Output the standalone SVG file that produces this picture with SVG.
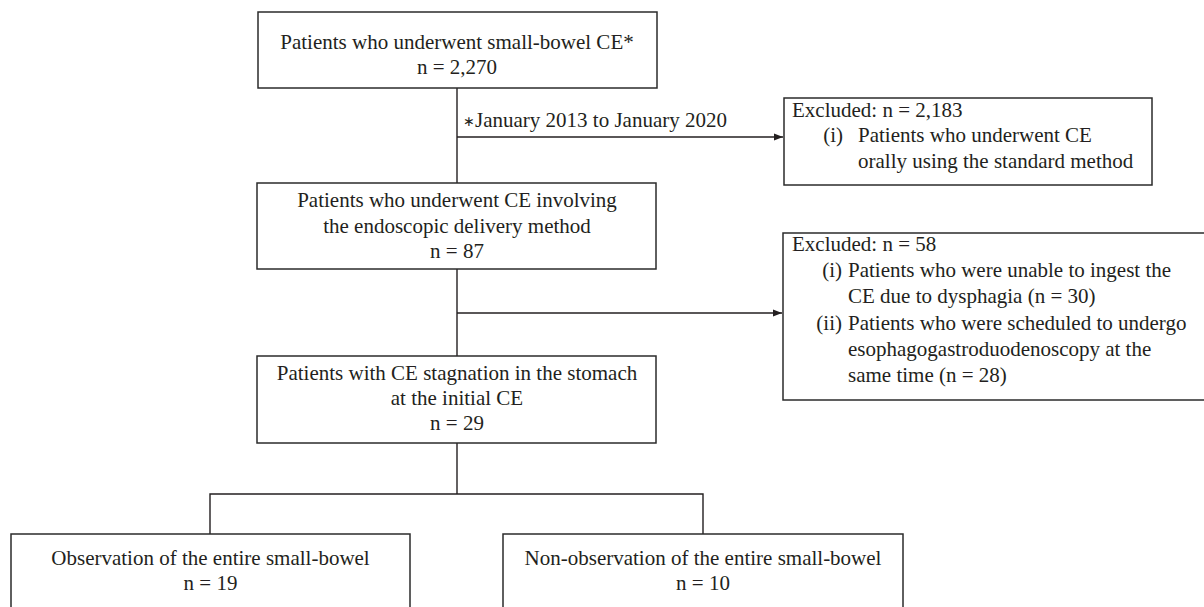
<svg xmlns="http://www.w3.org/2000/svg" width="1204" height="607" viewBox="0 0 1204 607">
<style>
  .box { fill: #ffffff; stroke: #2b2b2b; stroke-width: 1.5; }
  .ln { fill: none; stroke: #231f20; stroke-width: 1.4; }
  text { font-family: "Liberation Serif", "Times New Roman", serif; font-size: 21px; fill: #231f20; }
  .c { text-anchor: middle; }
  .e { text-anchor: end; }
</style>
<defs>
  <marker id="arr" markerWidth="10" markerHeight="8" refX="9" refY="4" orient="auto" markerUnits="userSpaceOnUse">
    <path d="M0,0.5 L9,4 L0,7.5 Z" fill="#231f20"/>
  </marker>
</defs>
<rect width="1204" height="607" fill="#ffffff"/>
<g id="connectors">
  <line class="ln" x1="457" y1="88" x2="457" y2="183"/>
  <line class="ln" x1="457" y1="137" x2="783" y2="137" marker-end="url(#arr)"/>
  <line class="ln" x1="457" y1="269" x2="457" y2="356"/>
  <line class="ln" x1="457" y1="313" x2="782" y2="313" marker-end="url(#arr)"/>
  <polyline class="ln" points="457,443 457,494"/>
  <polyline class="ln" points="210,534 210,494 703,494 703,534"/>
  <text x="463" y="127"><tspan font-size="14" dy="-1">∗</tspan><tspan dy="1">January 2013 to January 2020</tspan></text>
</g>
<g id="n_total">
  <rect class="box" x="258" y="12" width="399" height="76"/>
  <text class="c" x="457" y="49">Patients who underwent small-bowel CE*</text>
  <text class="c" x="457" y="74">n = 2,270</text>
</g>
<g id="n_excl1">
  <rect class="box" x="784" y="98" width="368" height="87"/>
  <text x="792" y="117">Excluded: n = 2,183</text>
  <text class="e" x="843" y="142">(i)</text>
  <text x="858" y="142">Patients who underwent CE</text>
  <text x="858" y="168">orally using the standard method</text>
</g>
<g id="n_endo">
  <rect class="box" x="257" y="183" width="399" height="86"/>
  <text class="c" x="457" y="207">Patients who underwent CE involving</text>
  <text class="c" x="457" y="233">the endoscopic delivery method</text>
  <text class="c" x="457" y="258">n = 87</text>
</g>
<g id="n_excl2">
  <rect class="box" x="783" y="233" width="440" height="167"/>
  <text x="792" y="251">Excluded: n = 58</text>
  <text class="e" x="842" y="277">(i)</text>
  <text x="848" y="277">Patients who were unable to ingest the</text>
  <text x="848" y="303">CE due to dysphagia (n = 30)</text>
  <text class="e" x="842" y="330">(ii)</text>
  <text x="848" y="330">Patients who were scheduled to undergo</text>
  <text x="848" y="356">esophagogastroduodenoscopy at the</text>
  <text x="848" y="382">same time (n = 28)</text>
</g>
<g id="n_stag">
  <rect class="box" x="257" y="356" width="399" height="87"/>
  <text class="c" x="457" y="380">Patients with CE stagnation in the stomach</text>
  <text class="c" x="457" y="405">at the initial CE</text>
  <text class="c" x="457" y="430">n = 29</text>
</g>
<g id="n_obs">
  <rect class="box" x="11" y="534" width="399" height="90"/>
  <text class="c" x="210.5" y="565">Observation of the entire small-bowel</text>
  <text class="c" x="210.5" y="590">n = 19</text>
</g>
<g id="n_nonobs">
  <rect class="box" x="503" y="534" width="400" height="90"/>
  <text class="c" x="703" y="565">Non-observation of the entire small-bowel</text>
  <text class="c" x="703" y="590">n = 10</text>
</g>
</svg>
